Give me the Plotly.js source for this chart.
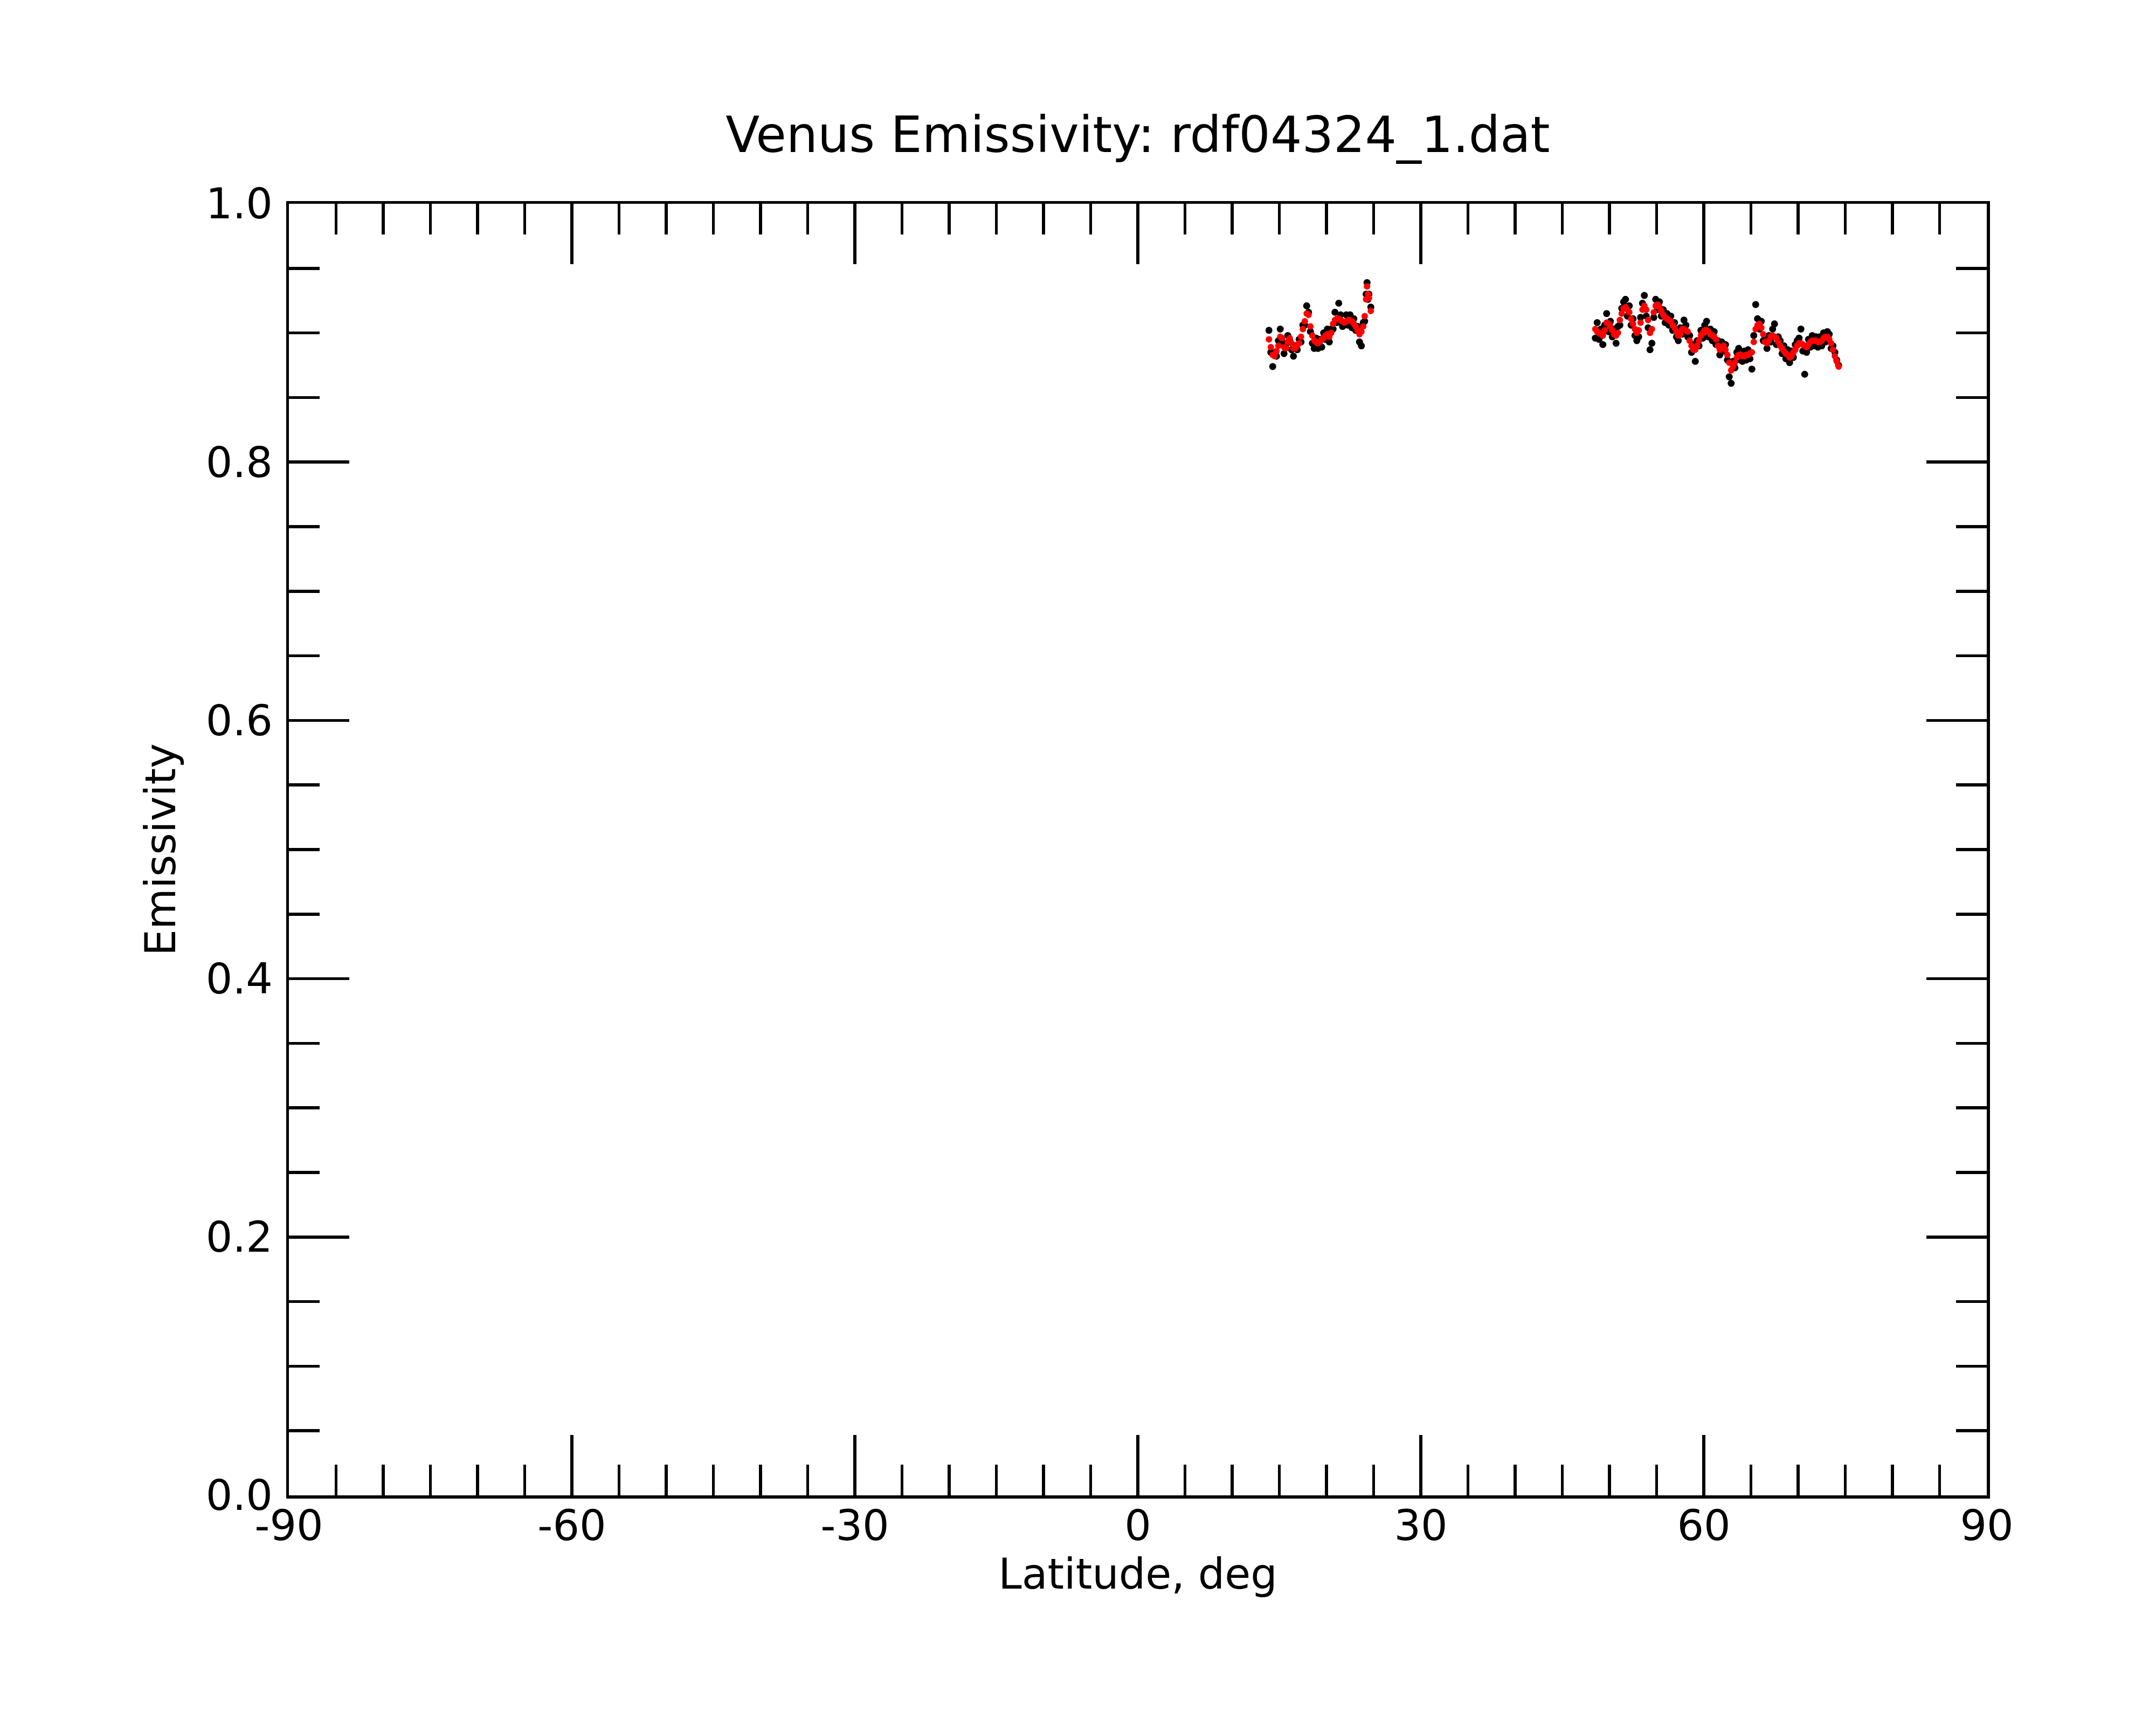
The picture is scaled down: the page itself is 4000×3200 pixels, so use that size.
<!DOCTYPE html>
<html>
<head>
<meta charset="utf-8">
<script src="https://cdn.plot.ly/plotly-3.0.1.min.js"></script>
<style>
  html, body { margin: 0; padding: 0; background: #fff; }
  #plot { width: 4000px; height: 3200px; }
</style>
</head>
<body>
<div id="plot"></div>
<script>
// Latitude samples, first pass (low latitudes)
const lat1 = [13.9, 14.1, 14.3, 14.5, 14.7, 14.9, 15.1, 15.3, 15.5, 15.7, 15.9, 16.1, 16.3, 16.5, 16.7, 16.9,
  17.1, 17.3, 17.5, 17.7, 17.9, 18.1, 18.3, 18.5, 18.7, 18.9, 19.1, 19.3, 19.5, 19.7, 19.9,
  20.1, 20.3, 20.5, 20.7, 20.9, 21.1, 21.3, 21.5, 21.7, 21.9, 22.1, 22.3, 22.5, 22.7, 22.9,
  23.1, 23.3, 23.5, 23.7, 23.9, 24.05, 24.2, 24.3, 24.4, 24.5, 24.7];

// raw emissivity (black)
const raw1 = [0.902, 0.885, 0.874, 0.885, 0.882, 0.894, 0.903, 0.893, 0.884, 0.891, 0.898, 0.894, 0.887, 0.882, 0.890, 0.887,
  0.895, 0.893, 0.906, 0.906, 0.921, 0.916, 0.901, 0.892, 0.888, 0.896, 0.888, 0.895, 0.889, 0.900, 0.895,
  0.903, 0.893, 0.903, 0.903, 0.916, 0.908, 0.923, 0.914, 0.905, 0.906, 0.914, 0.906, 0.914, 0.904, 0.911,
  0.902, 0.905, 0.893, 0.890, 0.908, 0.909, 0.930, 0.939, 0.926, 0.930, 0.920];

// smoothed emissivity (red)
const smooth1 = [0.895, 0.889, 0.883, 0.882, 0.886, 0.890, 0.897, 0.896, 0.889, 0.888, 0.893, 0.896, 0.892, 0.888, 0.888, 0.890,
  0.892, 0.897, 0.903, 0.909, 0.915, 0.914, 0.905, 0.898, 0.894, 0.893, 0.892, 0.893, 0.895, 0.896, 0.898,
  0.899, 0.897, 0.900, 0.907, 0.910, 0.911, 0.911, 0.910, 0.909, 0.908, 0.909, 0.910, 0.910, 0.909, 0.907,
  0.905, 0.902, 0.899, 0.901, 0.905, 0.913, 0.926, 0.936, 0.930, 0.927, 0.917];

// Second pass (high latitudes)
const lat2 = [48.5, 48.7, 48.9, 49.1, 49.3, 49.5, 49.7, 49.9,
  50.1, 50.3, 50.5, 50.7, 50.9, 51.1, 51.3, 51.5, 51.7, 51.9,
  52.1, 52.3, 52.5, 52.7, 52.9, 53.1, 53.3, 53.5, 53.7, 53.9,
  54.1, 54.3, 54.5, 54.7, 54.9, 55.1, 55.3, 55.5, 55.7, 55.9,
  56.1, 56.3, 56.5, 56.7, 56.9, 57.1, 57.3, 57.5, 57.7, 57.9,
  58.1, 58.3, 58.5, 58.7, 58.9, 59.1, 59.3, 59.5, 59.7, 59.9,
  60.1, 60.3, 60.5, 60.7, 60.9, 61.1, 61.3, 61.5, 61.7, 61.9,
  62.1, 62.3, 62.5, 62.7, 62.9, 63.1, 63.3, 63.5, 63.7, 63.9,
  64.1, 64.3, 64.5, 64.7, 64.9, 65.1, 65.3, 65.5, 65.7, 65.9,
  66.1, 66.3, 66.5, 66.7, 66.9, 67.1, 67.3, 67.5, 67.7, 67.9,
  68.1, 68.3, 68.5, 68.7, 68.9, 69.1, 69.3, 69.5, 69.7, 69.9,
  70.1, 70.3, 70.5, 70.7, 70.9, 71.1, 71.3, 71.5, 71.7, 71.9,
  72.1, 72.3, 72.5, 72.7, 72.9, 73.1, 73.3, 73.5, 73.7, 73.9,
  74.1, 74.3];

const raw2 = [0.896, 0.908, 0.895, 0.903, 0.891, 0.906, 0.915, 0.901,
  0.909, 0.897, 0.903, 0.892, 0.905, 0.906, 0.919, 0.924, 0.926, 0.913,
  0.921, 0.906, 0.911, 0.898, 0.894, 0.897, 0.912, 0.923, 0.929, 0.913,
  0.904, 0.887, 0.892, 0.912, 0.926, 0.918, 0.924, 0.913, 0.918, 0.908,
  0.915, 0.906, 0.913, 0.902, 0.908, 0.897, 0.894, 0.904, 0.899, 0.910,
  0.906, 0.897, 0.898, 0.885, 0.891, 0.878, 0.894, 0.890, 0.902, 0.896,
  0.906, 0.909, 0.897, 0.903, 0.894, 0.901, 0.891, 0.894, 0.883, 0.893,
  0.886, 0.891, 0.879, 0.866, 0.861, 0.878, 0.873, 0.885, 0.888, 0.879,
  0.878, 0.886, 0.879, 0.887, 0.880, 0.872, 0.898, 0.922, 0.911, 0.903,
  0.909, 0.894, 0.897, 0.888, 0.898, 0.893, 0.903, 0.907, 0.891, 0.897,
  0.894, 0.884, 0.890, 0.880, 0.887, 0.877, 0.886, 0.881, 0.891, 0.894,
  0.896, 0.903, 0.886, 0.868, 0.885, 0.895, 0.889, 0.898, 0.890, 0.897,
  0.889, 0.897, 0.890, 0.900, 0.893, 0.901, 0.899, 0.888, 0.890, 0.885,
  0.879, 0.875];

const smooth2 = [0.903, 0.901, 0.900, 0.899, 0.898, 0.902, 0.908, 0.907,
  0.905, 0.902, 0.899, 0.898, 0.900, 0.910, 0.915, 0.919, 0.920, 0.918,
  0.916, 0.911, 0.907, 0.903, 0.900, 0.902, 0.908, 0.918, 0.921, 0.918,
  0.910, 0.900, 0.903, 0.916, 0.921, 0.922, 0.920, 0.917, 0.914, 0.912,
  0.911, 0.910, 0.909, 0.906, 0.904, 0.901, 0.898, 0.899, 0.903, 0.903,
  0.902, 0.901, 0.894, 0.890, 0.887, 0.887, 0.890, 0.894, 0.898, 0.900,
  0.902, 0.902, 0.901, 0.899, 0.898, 0.897, 0.895, 0.890, 0.887, 0.889,
  0.890, 0.887, 0.883, 0.877, 0.871, 0.874, 0.877, 0.881, 0.883, 0.883,
  0.882, 0.882, 0.883, 0.883, 0.884, 0.885, 0.893, 0.903, 0.906, 0.907,
  0.904, 0.899, 0.893, 0.892, 0.894, 0.897, 0.898, 0.897, 0.896, 0.893,
  0.890, 0.888, 0.886, 0.884, 0.883, 0.881, 0.882, 0.885, 0.887, 0.890,
  0.892, 0.892, 0.891, 0.890, 0.889, 0.891, 0.893, 0.894, 0.894, 0.894,
  0.893, 0.893, 0.894, 0.896, 0.897, 0.897, 0.895, 0.892, 0.887, 0.882,
  0.878, 0.874];

// Axis ticks
const xTickVals = [-90, -60, -30, 0, 30, 60, 90];
const xTickText = ['-90', '-60', '-30', '0', '30', '60', '90'];
const yTickVals = [0, 0.2, 0.4, 0.6, 0.8, 1.0];
const yTickText = ['0.0', '0.2', '0.4', '0.6', '0.8', '1.0'];

const FONT = 'DejaVu Sans, Liberation Sans, sans-serif';
const LW = 5.5;

const dots = (x, y, color, size) => ({
  x: x,
  y: y,
  type: 'scatter',
  mode: 'markers',
  marker: { color: color, size: size, line: { width: 0 } },
  hoverinfo: 'x+y',
  showlegend: false,
});

const data = [
  dots(lat1, raw1, '#000000', 13),
  dots(lat2, raw2, '#000000', 13),
  dots(lat1, smooth1, '#ff0000', 12),
  dots(lat2, smooth2, '#ff0000', 12),
];

const axisCommon = {
  showline: true,
  linecolor: '#000',
  linewidth: LW,
  mirror: 'ticks',
  showgrid: false,
  zeroline: false,
  ticks: 'inside',
  tickcolor: '#000',
  tickwidth: LW,
  ticklen: 112,
  tickfont: { family: FONT, size: 78, color: '#000' },
  fixedrange: true,
};

const layout = {
  width: 4000,
  height: 3200,
  paper_bgcolor: '#fff',
  plot_bgcolor: '#fff',
  margin: { l: 536, r: 314, t: 378, b: 426 },
  title: {
    text: 'Venus Emissivity: rdf04324_1.dat',
    font: { family: FONT, size: 92, color: '#000' },
    x: 0.5,
    xref: 'paper',
    xanchor: 'center',
    y: 1 - 250 / 3200,
    yref: 'container',
    yanchor: 'middle',
  },
  xaxis: {
    ...axisCommon,
    range: [-90, 90],
    tickmode: 'array',
    tickvals: xTickVals,
    ticktext: xTickText,
    ticklabelstandoff: -16,
    minor: { dtick: 5, ticks: 'inside', ticklen: 57, tickwidth: LW, tickcolor: '#000', showgrid: false },
    title: { text: 'Latitude, deg', font: { family: FONT, size: 78, color: '#000' }, standoff: 0 },
    automargin: false,
  },
  yaxis: {
    ...axisCommon,
    range: [0, 1],
    tickmode: 'array',
    tickvals: yTickVals,
    ticktext: yTickText,
    ticklabelstandoff: 9,
    minor: { dtick: 0.05, ticks: 'inside', ticklen: 57, tickwidth: LW, tickcolor: '#000', showgrid: false },
    title: { text: 'Emissivity', font: { family: FONT, size: 78, color: '#000' }, standoff: 32 },
    automargin: false,
  },
};

Plotly.newPlot('plot', data, layout, { displayModeBar: false, staticPlot: true });
</script>
</body>
</html>
